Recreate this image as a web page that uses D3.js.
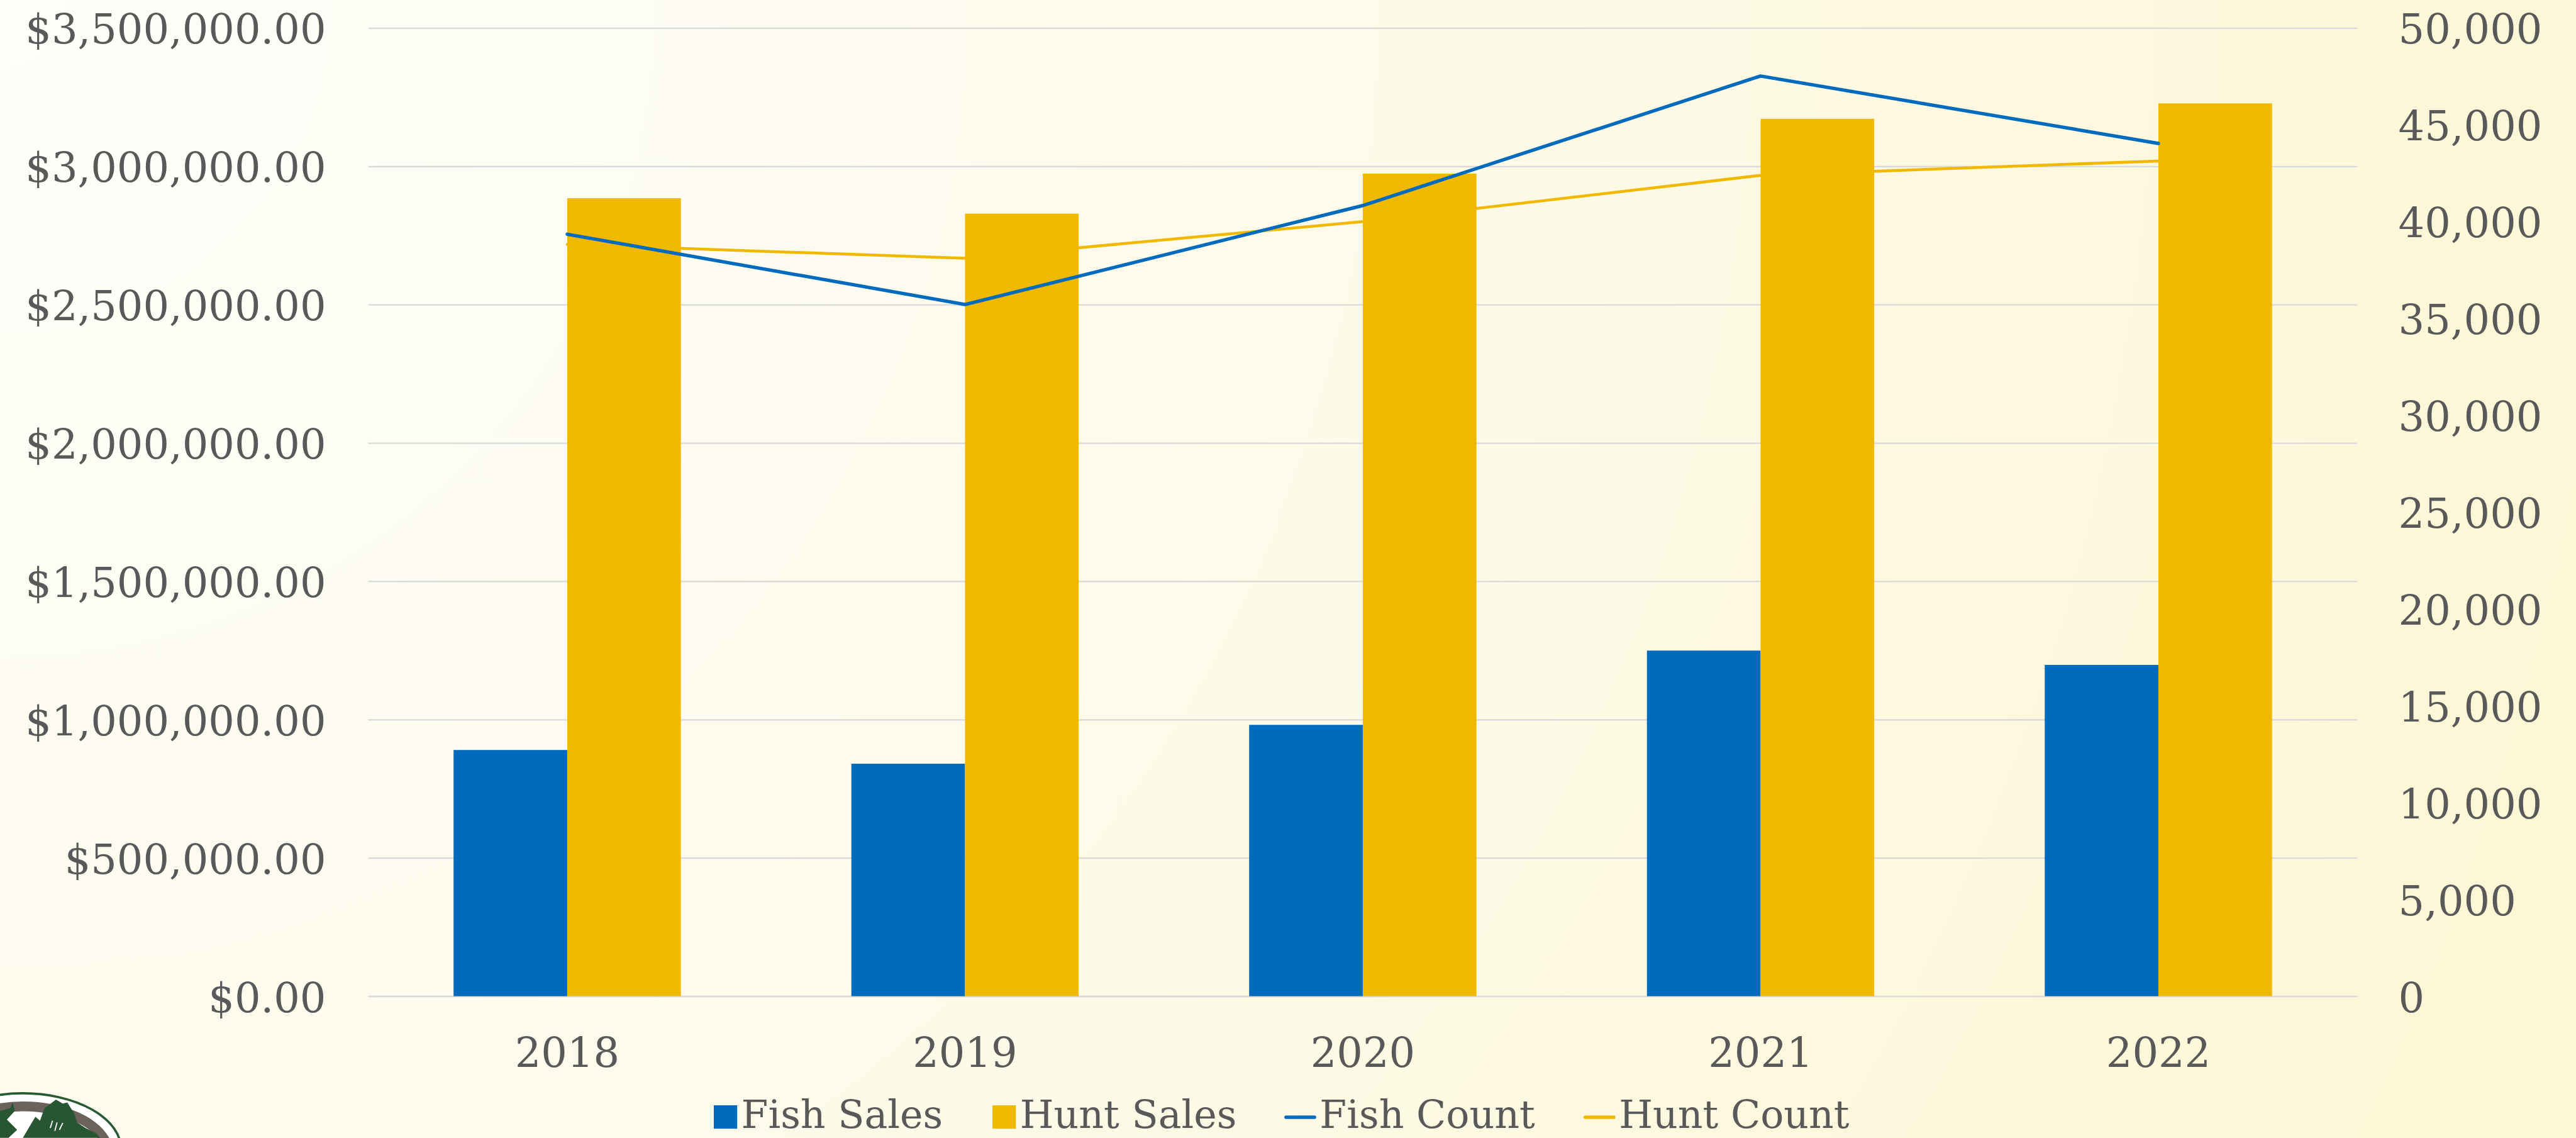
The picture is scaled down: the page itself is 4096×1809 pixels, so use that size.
<!DOCTYPE html>
<html>
<head>
<meta charset="utf-8">
<script src="https://cdn.jsdelivr.net/npm/d3@7"></script>
<style>
  html, body { margin: 0; padding: 0; overflow: hidden; }
  svg { display: block; }
  text { font-family: "DejaVu Serif", "Liberation Serif", serif; fill: #595959; }
</style>
</head>
<body>
<svg id="chart"></svg>
<script>
// chart values
var years = ["2018", "2019", "2020", "2021", "2022"];
var fishSales = [890000, 840400, 980800, 1249300, 1197600];
var huntSales = [2884700, 2828900, 2973500, 3171700, 3227400];
var fishCount = [39350, 35720, 40830, 47520, 44040];
var huntCount = [38820, 38110, 40000, 42390, 43130];
var salesTicks = [0, 500000, 1000000, 1500000, 2000000, 2500000, 3000000, 3500000];
var countTicks = [0, 5000, 10000, 15000, 20000, 25000, 30000, 35000, 40000, 45000, 50000];
var legendNames = ["Fish Sales", "Hunt Sales", "Fish Count", "Hunt Count"];

var blue = "#006BBD", gold = "#F1B800";
var k = 0.908;               // whole drawing is laid out at reference size, then scaled
// plot area in reference pixels (note: "top" is a reserved window name, so pX names)
var pLeft = 645, pRight = 4128, pTop = 49, pBottom = 1744;

var svg = d3.select("#chart")
    .attr("width", 4096)
    .attr("height", 1809);

var defs = svg.append("defs");
var bg = defs.append("radialGradient")
    .attr("id", "bg")
    .attr("gradientUnits", "userSpaceOnUse")
    .attr("cx", 0).attr("cy", 0).attr("r", 4700 * k);
bg.append("stop").attr("offset", 0).attr("stop-color", "#FFFFFB");
bg.append("stop").attr("offset", 0.38).attr("stop-color", "#FDFBEE");
bg.append("stop").attr("offset", 1).attr("stop-color", "#FDF7D6");

svg.append("rect")
    .attr("width", 4096).attr("height", 1809)
    .attr("fill", "url(#bg)");

var g = svg.append("g").attr("transform", "scale(" + k + ")");

// scales
var x = d3.scaleBand().domain(years).range([pLeft, pRight]).padding(0);
var xs = d3.scaleBand().domain(["fish", "hunt"]).range([0, x.bandwidth()]).paddingInner(0).paddingOuter(0.75);
var ySales = d3.scaleLinear().domain([0, 3500000]).range([pBottom, pTop]);
var yCount = d3.scaleLinear().domain([0, 50000]).range([pBottom, pTop]);

// gridlines
var grid = g.append("g")
    .attr("transform", "translate(" + pLeft + ",0)")
    .call(d3.axisLeft(ySales).tickValues(salesTicks).tickSize(-(pRight - pLeft)).tickFormat(""));
grid.select(".domain").remove();
grid.selectAll("line").attr("stroke", "#D9D9D9").attr("stroke-width", 2.5);

// left axis labels
var yl = g.append("g")
    .attr("transform", "translate(" + pLeft + ",0)")
    .call(d3.axisLeft(ySales).tickValues(salesTicks).tickSize(0).tickPadding(74)
        .tickFormat(d3.format("$,.2f")));
yl.select(".domain").remove();
yl.selectAll("text").attr("font-size", 72).attr("dy", 27).attr("fill", "#595959")
    .style("font-family", "DejaVu Serif");

// right axis labels
var yr = g.append("g")
    .attr("transform", "translate(" + pRight + ",0)")
    .call(d3.axisRight(yCount).tickValues(countTicks).tickSize(0).tickPadding(72)
        .tickFormat(d3.format(",")));
yr.select(".domain").remove();
yr.selectAll("text").attr("font-size", 72).attr("dy", 27).attr("fill", "#595959")
    .style("font-family", "DejaVu Serif");

// category labels
var xa = g.append("g")
    .attr("transform", "translate(0," + pBottom + ")")
    .call(d3.axisBottom(x).tickSize(0));
xa.select(".domain").remove();
xa.selectAll("text").attr("font-size", 72).attr("y", 124).attr("dy", 0).attr("fill", "#595959")
    .style("font-family", "DejaVu Serif");

// bars
var rows = years.map(function(d, i) {
    return { year: d, fish: fishSales[i], hunt: huntSales[i] };
});
var groups = g.append("g").selectAll("g")
    .data(rows)
    .enter()
    .append("g")
    .attr("transform", function(d) { return "translate(" + x(d.year) + ",0)"; });
groups.selectAll("rect")
    .data(function(d) { return [{ key: "fish", v: d.fish }, { key: "hunt", v: d.hunt }]; })
    .enter()
    .append("rect")
    .attr("x", function(d) { return xs(d.key); })
    .attr("width", xs.bandwidth())
    .attr("y", function(d) { return ySales(d.v); })
    .attr("height", function(d) { return pBottom - ySales(d.v); })
    .attr("fill", function(d) { return d.key == "fish" ? blue : gold; });

// count lines
var line = d3.line()
    .x(function(d, i) { return x(years[i]) + x.bandwidth() / 2; })
    .y(function(d) { return yCount(d); });
g.append("path").datum(huntCount)
    .attr("d", line).attr("fill", "none")
    .attr("stroke", gold).attr("stroke-width", 5)
    .attr("stroke-linecap", "round").attr("stroke-linejoin", "round");
g.append("path").datum(fishCount)
    .attr("d", line).attr("fill", "none")
    .attr("stroke", blue).attr("stroke-width", 6)
    .attr("stroke-linecap", "round").attr("stroke-linejoin", "round");

// legend
var legendX = [1250, 1738, 2249, 2773];
var lg = g.append("g").selectAll("g")
    .data(legendNames)
    .enter()
    .append("g")
    .attr("transform", function(d, i) { return "translate(" + legendX[i] + ",0)"; });
lg.each(function(d, i) {
    var item = d3.select(this);
    var col = (i % 2 == 0) ? blue : gold;
    if (i < 2) {
        item.append("rect").attr("x", 0).attr("y", 1935).attr("width", 41).attr("height", 41).attr("fill", col);
        item.append("text").attr("x", 48).attr("y", 1975).attr("font-size", 68).text(d);
    } else {
        item.append("line").attr("x1", 3).attr("x2", 53).attr("y1", 1956).attr("y2", 1956)
            .attr("stroke", col).attr("stroke-width", 6).attr("stroke-linecap", "round");
        item.append("text").attr("x", 62).attr("y", 1975).attr("font-size", 68).text(d);
    }
});

// badge in the lower left corner (cut off by the edge)
var badge = g.append("g");
badge.append("ellipse").attr("cx", 40).attr("cy", 2012).attr("rx", 172).attr("ry", 98)
    .attr("fill", "#FFFFFF").attr("stroke", "#2A5A33").attr("stroke-width", 4);
badge.append("ellipse").attr("cx", 40).attr("cy", 2020).attr("rx", 150).attr("ry", 83)
    .attr("fill", "none").attr("stroke", "#6B625C").attr("stroke-width", 17);
badge.append("path")
    .attr("d", "M0,1945 L18,1940 L22,1930 L26,1945 L12,1960 L30,1978 L15,1992 L0,1992 Z" +
               "M40,1992 L62,1955 L70,1962 L78,1940 L98,1925 L110,1932 L118,1930 L130,1950 L135,1965 " +
               "L150,1975 L170,1985 L175,1992 Z")
    .attr("fill", "#285632");
badge.append("path")
    .attr("d", "M88,1975 L92,1962 M96,1980 L100,1965 M104,1978 L110,1966")
    .attr("stroke", "#FFFFFF").attr("stroke-width", 2).attr("fill", "none");
</script>
</body>
</html>
